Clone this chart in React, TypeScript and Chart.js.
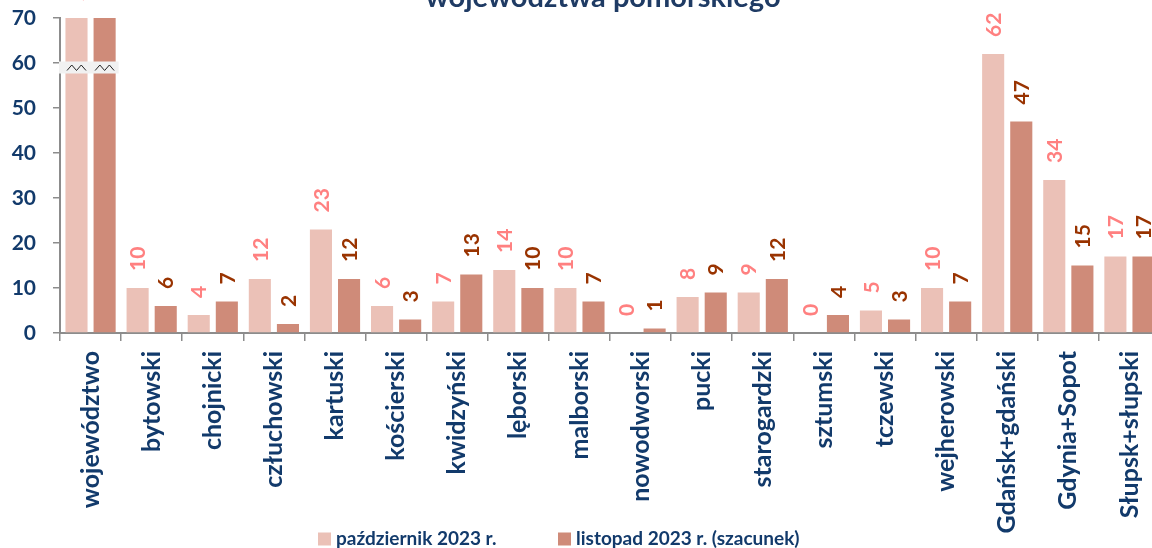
import React, { useEffect, useRef } from "react";
import { Chart, registerables } from "chart.js";

Chart.register(...registerables);

const categories = [
  "województwo", "bytowski", "chojnicki", "człuchowski", "kartuski", "kościerski",
  "kwidzyński", "lęborski", "malborski", "nowodworski", "pucki", "starogardzki",
  "sztumski", "tczewski", "wejherowski", "Gdańsk+gdański", "Gdynia+Sopot", "Słupsk+słupski",
];
const october = [231, 10, 4, 12, 23, 6, 7, 14, 10, 0, 8, 9, 0, 5, 10, 62, 34, 17];
const november = [175, 6, 7, 2, 12, 3, 13, 10, 7, 1, 9, 12, 4, 3, 7, 47, 15, 17];
const seriesNames = ["październik 2023 r.", "listopad 2023 r. (szacunek)"];
const titleText = "województwa pomorskiego";
const yMax = 70;
const yStep = 10;
const breakValue = 60;

const NAVY = "#123a6b";
const PINK = "#ebc1b7";
const BROWN = "#cf8b79";
const PINK_LABEL = "#ff8080";
const BROWN_LABEL = "#993300";
const AXIS = "#8c8c8c";
const FONT = "Lato, 'Open Sans', sans-serif";
const TOP = 40;
const CW = 1180;
const CH = 548 + TOP;

const overlayPlugin = {
  id: "overlay",
  afterDatasetsDraw(chart: any) {
    const ctx = chart.ctx;
    const area = chart.chartArea;
    const y = chart.scales.y;
    // axis break band on the first category
    const m0 = chart.getDatasetMeta(0);
    const m1 = chart.getDatasetMeta(1);
    const e0 = m0.data[0];
    const e1 = m1.data[0];
    const yb = y.getPixelForValue(breakValue);
    ctx.save();
    ctx.fillStyle = "#f1f1f1";
    const bandRight = e1.x + e1.width / 2 + 3;
    ctx.fillRect(area.left - 1, yb - 1.5, bandRight - area.left + 1, 12);
    ctx.strokeStyle = "#222";
    ctx.lineWidth = 1;
    [e0, e1].forEach((e: any) => {
      const x0 = e.x - 9.5;
      ctx.beginPath();
      ctx.moveTo(x0, yb + 7.5);
      ctx.lineTo(x0 + 4.75, yb + 2);
      ctx.lineTo(x0 + 9.5, yb + 7.5);
      ctx.lineTo(x0 + 14.25, yb + 2);
      ctx.lineTo(x0 + 19, yb + 7.5);
      ctx.stroke();
    });
    ctx.restore();

    // data labels
    const styles = [
      { color: PINK_LABEL, font: `bold 21px ${FONT}` },
      { color: BROWN_LABEL, font: `bold 21px ${FONT}` },
    ];
    chart.data.datasets.forEach((ds: any, di: number) => {
      const meta = chart.getDatasetMeta(di);
      meta.data.forEach((el: any, i: number) => {
        const top = Math.max(el.y, area.top);
        ctx.save();
        ctx.translate(el.x, top - 17);
        ctx.rotate(-Math.PI / 2);
        ctx.fillStyle = styles[di].color;
        ctx.font = styles[di].font;
        ctx.textAlign = "left";
        ctx.textBaseline = "middle";
        ctx.fillText(String(ds.data[i]), 0, 1);
        ctx.restore();
      });
    });
  },
  afterDraw(chart: any) {
    const ctx = chart.ctx;
    ctx.save();
    // title (mostly cut off at the top)
    ctx.fillStyle = "#1f3b64";
    ctx.font = `bold 29px ${FONT}`;
    ctx.textAlign = "center";
    ctx.textBaseline = "alphabetic";
    ctx.fillText(titleText, 603, TOP + 7);
    // legend
    const ly = TOP + 539;
    const items = [
      { x: 318, color: PINK, text: seriesNames[0] },
      { x: 558, color: BROWN, text: seriesNames[1] },
    ];
    ctx.font = `bold 19px ${FONT}`;
    ctx.textAlign = "left";
    ctx.textBaseline = "middle";
    items.forEach((it) => {
      ctx.fillStyle = it.color;
      ctx.fillRect(it.x, ly - 6.5, 13, 13);
      ctx.fillStyle = NAVY;
      ctx.fillText(it.text, it.x + 18, ly);
    });
    ctx.restore();
  },
};

export default function App() {
  const ref = useRef<HTMLCanvasElement>(null);
  useEffect(() => {
    document.body.style.margin = "0";
    document.body.style.overflow = "hidden";
    const chart = new Chart(ref.current as HTMLCanvasElement, {
      type: "bar",
      data: {
        labels: categories,
        datasets: [
          { label: seriesNames[0], data: october, backgroundColor: PINK, categoryPercentage: 0.92, barPercentage: 0.786 },
          { label: seriesNames[1], data: november, backgroundColor: BROWN, categoryPercentage: 0.92, barPercentage: 0.786 },
        ],
      },
      options: {
        animation: false,
        responsive: false,
        devicePixelRatio: 1,
        layout: { padding: { top: TOP + 18, left: 0, right: CW - 1160, bottom: 0 } },
        plugins: { legend: { display: false }, title: { display: false }, tooltip: { enabled: false } },
        scales: {
          x: {
            offset: true,
            grid: { offset: true, drawOnChartArea: false, drawTicks: true, tickLength: 8, color: AXIS, lineWidth: 1.5 },
            border: { display: true, color: AXIS, width: 2 },
            ticks: {
              autoSkip: false,
              minRotation: 90,
              maxRotation: 90,
              padding: 10,
              color: NAVY,
              font: { family: FONT, size: 25, weight: "bold" },
            },
            afterFit: (s: any) => { s.height = CH - (TOP + 333); },
          },
          y: {
            min: 0,
            max: yMax,
            grid: { drawOnChartArea: false, drawTicks: true, tickLength: 7, color: AXIS, lineWidth: 1.5 },
            border: { display: true, color: AXIS, width: 2 },
            ticks: {
              stepSize: yStep,
              padding: 17,
              color: NAVY,
              font: { family: FONT, size: 21, weight: "bold" },
            },
            afterFit: (s: any) => { s.width = 60; },
          },
        },
      },
      plugins: [overlayPlugin],
    });
    return () => chart.destroy();
  }, []);
  return (
    <div style={{ position: "fixed", left: 0, top: 0, width: 1152, height: 548, overflow: "hidden", background: "#fff" }}>
      <canvas ref={ref} width={CW} height={CH} style={{ position: "absolute", left: 0, top: -TOP, width: CW, height: CH }} />
    </div>
  );
}
